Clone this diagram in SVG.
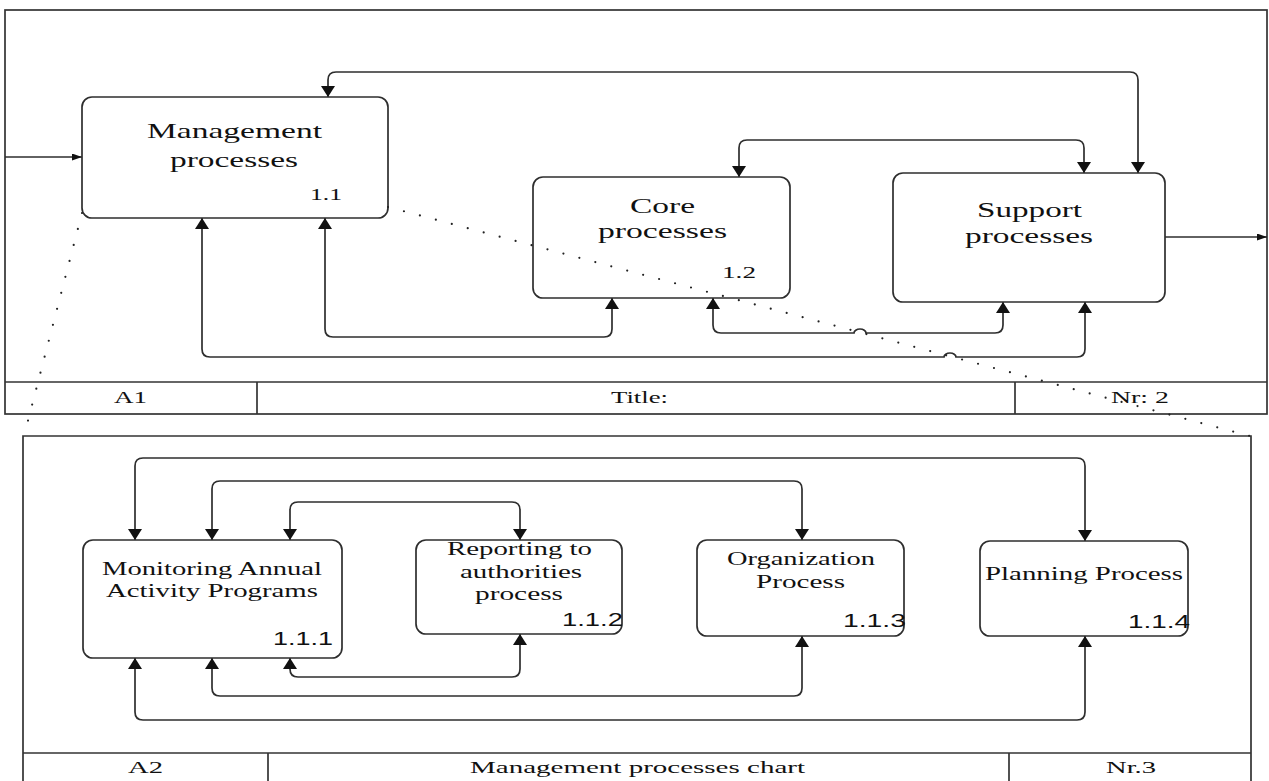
<svg xmlns="http://www.w3.org/2000/svg" width="1269" height="781" viewBox="0 0 1269 781">
  <style>
    .frame { fill: none; stroke: #333; stroke-width: 1.7; }
    .box { fill: #fff; stroke: #2e2e2e; stroke-width: 1.7; }
    .conn { fill: none; stroke: #2e2e2e; stroke-width: 1.7; }
    .dots { fill: none; stroke: #222; stroke-width: 2.2; stroke-dasharray: 0 16.5; stroke-linecap: round; }
    .lbl { font-family: "Liberation Serif", serif; font-size: 22px; fill: #111; }
    .lbl2 { font-family: "Liberation Serif", serif; font-size: 19px; fill: #111; }
    .num { font-family: "Liberation Serif", serif; font-size: 17px; fill: #111; }
    .num2 { font-family: "Liberation Sans", sans-serif; font-size: 17.5px; fill: #111; }
    .cell { font-family: "Liberation Serif", serif; font-size: 17px; fill: #111; }
  </style>
  <defs>
    <marker id="arrow" viewBox="0 0 11 14" refX="11" refY="7" markerWidth="11" markerHeight="14" markerUnits="userSpaceOnUse" orient="auto-start-reverse">
      <path d="M0,0 L11,7 L0,14 z" fill="#111"/>
    </marker>
    <marker id="arrowSmall" viewBox="0 0 10 7" refX="10" refY="3.5" markerWidth="10" markerHeight="7" markerUnits="userSpaceOnUse" orient="auto">
      <path d="M0,0 L10,3.5 L0,7 z" fill="#111"/>
    </marker>
  </defs>

  <rect width="1269" height="781" fill="#fff"/>

  <!-- Level A1 frame with its title row -->
  <g id="frame-a1">
    <rect class="frame" x="5" y="10" width="1262" height="404"/>
    <line class="frame" x1="5" y1="382" x2="1267" y2="382"/>
    <line class="frame" x1="257" y1="382" x2="257" y2="414"/>
    <line class="frame" x1="1015" y1="382" x2="1015" y2="414"/>
    <text class="cell" x="114" y="403" textLength="33" lengthAdjust="spacingAndGlyphs">A1</text>
    <text class="cell" x="611" y="403" textLength="57" lengthAdjust="spacingAndGlyphs">Title:</text>
    <text class="cell" x="1111" y="403" textLength="58" lengthAdjust="spacingAndGlyphs">Nr: 2</text>
  </g>

  <!-- Level A2 frame with its title row -->
  <g id="frame-a2">
    <path class="frame" d="M23,781 V436 H1251 V781"/>
    <line class="frame" x1="23" y1="753" x2="1251" y2="753"/>
    <line class="frame" x1="268" y1="753" x2="268" y2="781"/>
    <line class="frame" x1="1009" y1="753" x2="1009" y2="781"/>
    <text class="cell" x="128" y="773" textLength="35" lengthAdjust="spacingAndGlyphs">A2</text>
    <text class="cell" x="470" y="773" textLength="335" lengthAdjust="spacingAndGlyphs">Management processes chart</text>
    <text class="cell" x="1106" y="773" textLength="50" lengthAdjust="spacingAndGlyphs">Nr.3</text>
  </g>

  <!-- Connectors -->
  <g id="connectors">
    <!-- A1 -->
    <path class="conn" d="M5,157 H82" marker-end="url(#arrowSmall)"/>
    <path class="conn" d="M1165,237 H1267" marker-end="url(#arrowSmall)"/>
    <path class="conn" d="M328,97 V80 Q328,72 336,72 H1130 Q1138,72 1138,80 V173" marker-start="url(#arrow)" marker-end="url(#arrow)"/>
    <path class="conn" d="M739,177 V148 Q739,140 747,140 H1076 Q1084,140 1084,148 V173" marker-start="url(#arrow)" marker-end="url(#arrow)"/>
    <path class="conn" d="M325,218 V329 Q325,337 333,337 H604 Q612,337 612,329 V298" marker-start="url(#arrow)" marker-end="url(#arrow)"/>
    <path class="conn" d="M202,218 V349 Q202,357 210,357 H944 a6,4 0 0 1 12,0 H1077 Q1085,357 1085,349 V302" marker-start="url(#arrow)" marker-end="url(#arrow)"/>
    <path class="conn" d="M713,298 V325 Q713,333 721,333 H854 a6,4 0 0 1 12,0 H995 Q1003,333 1003,325 V302" marker-start="url(#arrow)" marker-end="url(#arrow)"/>
    <!-- A2 -->
    <path class="conn" d="M135,540 V466 Q135,458 143,458 H1077 Q1085,458 1085,466 V541" marker-start="url(#arrow)" marker-end="url(#arrow)"/>
    <path class="conn" d="M212,540 V489 Q212,481 220,481 H794 Q802,481 802,489 V540" marker-start="url(#arrow)" marker-end="url(#arrow)"/>
    <path class="conn" d="M290,540 V510 Q290,502 298,502 H512 Q520,502 520,510 V540" marker-start="url(#arrow)" marker-end="url(#arrow)"/>
    <path class="conn" d="M290,658 V669 Q290,677 298,677 H512 Q520,677 520,669 V634" marker-start="url(#arrow)" marker-end="url(#arrow)"/>
    <path class="conn" d="M212,658 V688 Q212,696 220,696 H794 Q802,696 802,688 V636" marker-start="url(#arrow)" marker-end="url(#arrow)"/>
    <path class="conn" d="M135,658 V712 Q135,720 143,720 H1077 Q1085,720 1085,712 V636" marker-start="url(#arrow)" marker-end="url(#arrow)"/>
  </g>

  <!-- A1 nodes -->
  <g id="node-1-1">
    <rect class="box" x="82" y="97" width="306" height="121" rx="10"/>
    <text class="lbl" x="147" y="138" textLength="175" lengthAdjust="spacingAndGlyphs">Management</text>
    <text class="lbl" x="170" y="167" textLength="128" lengthAdjust="spacingAndGlyphs">processes</text>
    <text class="num" x="310" y="200" textLength="32" lengthAdjust="spacingAndGlyphs">1.1</text>
  </g>
  <g id="node-1-2">
    <rect class="box" x="533" y="177" width="257" height="121" rx="10"/>
    <text class="lbl" x="630" y="213" textLength="65" lengthAdjust="spacingAndGlyphs">Core</text>
    <text class="lbl" x="598" y="238" textLength="129" lengthAdjust="spacingAndGlyphs">processes</text>
    <text class="num" x="722" y="278" textLength="34" lengthAdjust="spacingAndGlyphs">1.2</text>
  </g>
  <g id="node-1-3">
    <rect class="box" x="893" y="173" width="272" height="129" rx="10"/>
    <text class="lbl" x="977" y="217" textLength="105" lengthAdjust="spacingAndGlyphs">Support</text>
    <text class="lbl" x="965" y="243" textLength="128" lengthAdjust="spacingAndGlyphs">processes</text>
  </g>

  <!-- A2 nodes -->
  <g id="node-1-1-1">
    <rect class="box" x="83" y="540" width="259" height="118" rx="10"/>
    <text class="lbl2" x="102" y="575" textLength="220" lengthAdjust="spacingAndGlyphs">Monitoring Annual</text>
    <text class="lbl2" x="106" y="597" textLength="212" lengthAdjust="spacingAndGlyphs">Activity Programs</text>
    <text class="num2" x="273" y="645" textLength="60" lengthAdjust="spacingAndGlyphs">1.1.1</text>
  </g>
  <g id="node-1-1-2">
    <rect class="box" x="416" y="540" width="206" height="94" rx="10"/>
    <text class="lbl2" x="447" y="555" textLength="145" lengthAdjust="spacingAndGlyphs">Reporting to</text>
    <text class="lbl2" x="460" y="578" textLength="122" lengthAdjust="spacingAndGlyphs">authorities</text>
    <text class="lbl2" x="475" y="600" textLength="88" lengthAdjust="spacingAndGlyphs">process</text>
    <text class="num2" x="562" y="626" textLength="61" lengthAdjust="spacingAndGlyphs">1.1.2</text>
  </g>
  <g id="node-1-1-3">
    <rect class="box" x="697" y="540" width="207" height="96" rx="10"/>
    <text class="lbl2" x="727" y="565" textLength="148" lengthAdjust="spacingAndGlyphs">Organization</text>
    <text class="lbl2" x="756" y="588" textLength="89" lengthAdjust="spacingAndGlyphs">Process</text>
    <text class="num2" x="843" y="627" textLength="63" lengthAdjust="spacingAndGlyphs">1.1.3</text>
  </g>
  <g id="node-1-1-4">
    <rect class="box" x="980" y="541" width="208" height="95" rx="10"/>
    <text class="lbl2" x="985" y="580" textLength="198" lengthAdjust="spacingAndGlyphs">Planning Process</text>
    <text class="num2" x="1128" y="628" textLength="62" lengthAdjust="spacingAndGlyphs">1.1.4</text>
  </g>

  <!-- Decomposition guide lines from 1.1 down to the A2 frame, drawn over the boxes -->
  <g id="guides">
    <path class="dots" d="M82,213 L24,436"/>
    <path class="dots" d="M388,207 L1250,436"/>
  </g>
</svg>
